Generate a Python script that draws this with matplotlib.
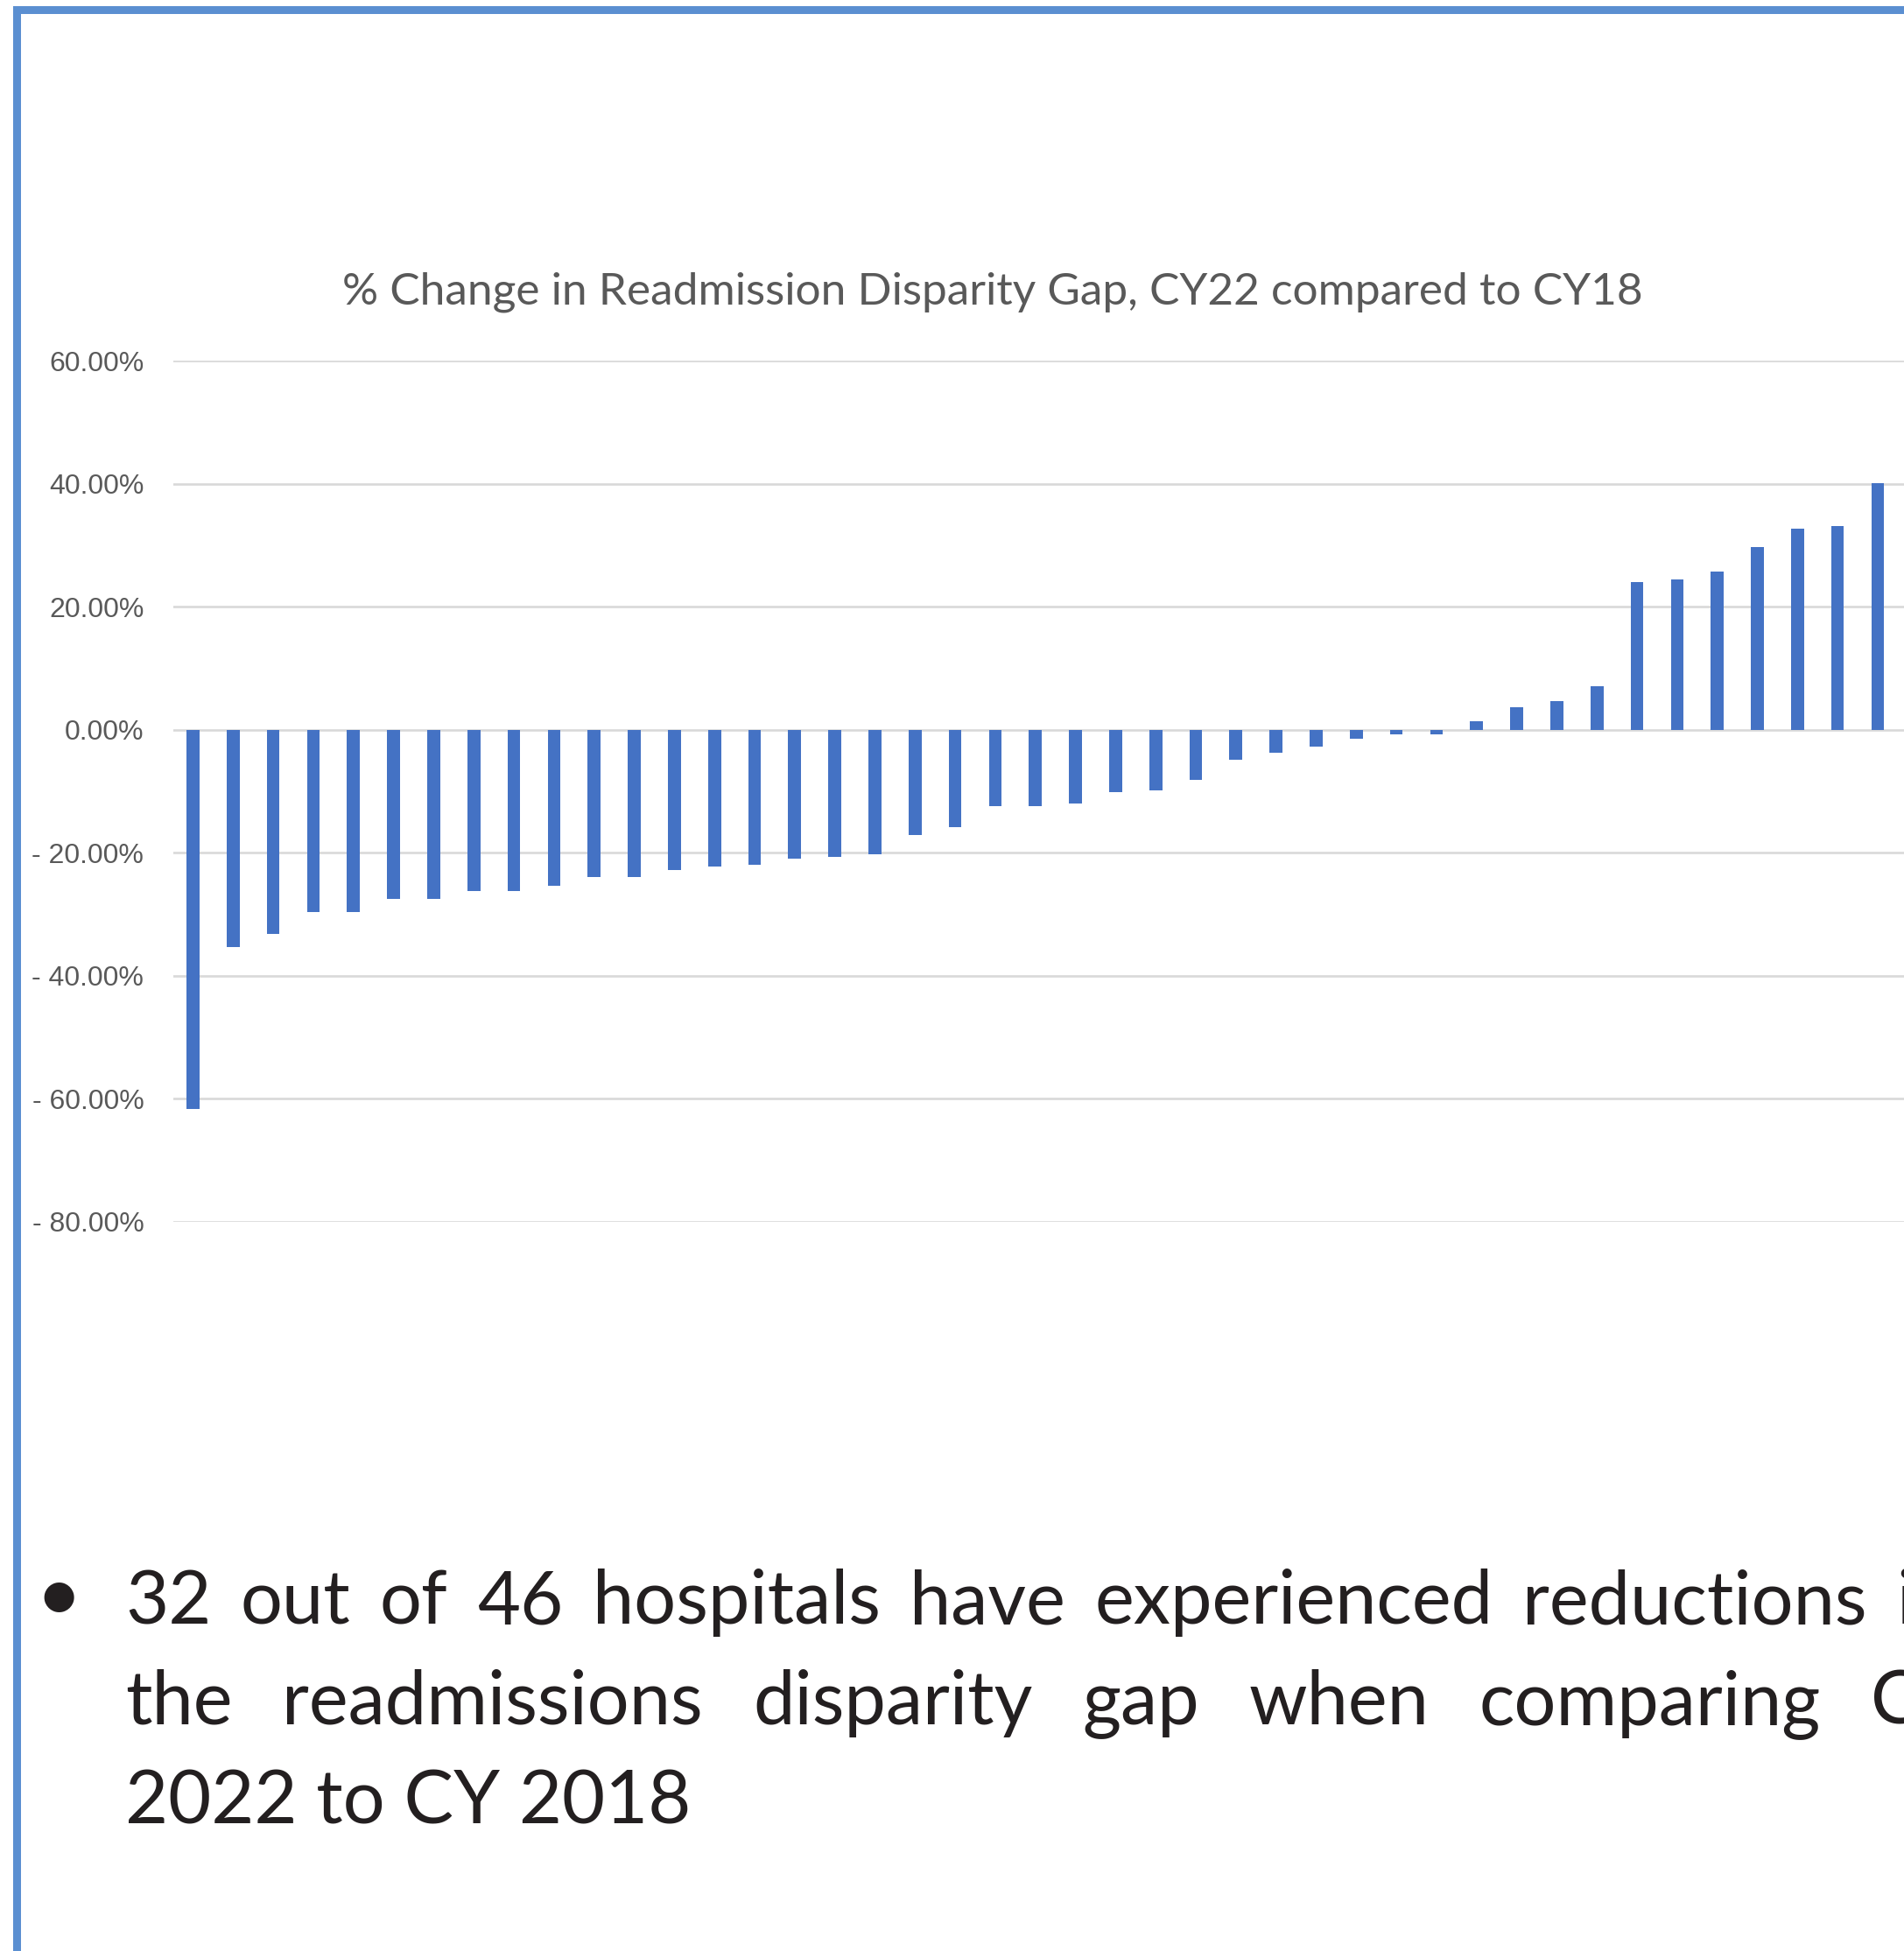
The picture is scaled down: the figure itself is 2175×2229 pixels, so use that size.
import matplotlib
matplotlib.use("Agg")
import matplotlib.pyplot as plt
import numpy as np
from matplotlib.font_manager import FontProperties
from matplotlib.patches import Rectangle
from matplotlib.ticker import FuncFormatter

# % change in readmission disparity gap per hospital, sorted ascending
pct_change = [-61.7, -35.3, -33.2, -29.6, -29.6, -27.5, -27.5, -26.2, -26.2, -25.3,
              -24.0, -24.0, -22.8, -22.3, -21.9, -21.0, -20.6, -20.2, -17.1, -15.8,
              -12.4, -12.4, -12.0, -10.2, -9.8, -8.1, -4.9, -3.7, -2.8, -1.5,
              -0.7, -0.7, 1.4, 3.6, 4.6, 7.1, 24.0, 24.4, 25.7, 29.7,
              32.7, 33.1, 40.1]
n_hospitals = 46
y_ticks = [-80, -60, -40, -20, 0, 20, 40, 60]
title = "% Change in Readmission Disparity Gap, CY22 compared to CY18"
bullet_lines = ["32 out of 46 hospitals have experienced reductions in",
                "the readmissions disparity gap when comparing CY",
                "2022 to CY 2018"]

W, H = 2175, 2229
fig = plt.figure(figsize=(W / 100, H / 100), dpi=100)

# plot area runs past the right edge of the slide crop
ax = fig.add_axes([197.6 / W, 1 - 1396 / H, 46 * 45.82 / W, 984 / H])
x = np.arange(len(pct_change))
ax.bar(x, np.array(pct_change) / 100, width=0.32, color="#4472C4", zorder=3)
ax.set_xlim(-0.5, n_hospitals - 0.5)
ax.set_ylim(-0.8, 0.6)
ax.set_yticks(np.array(y_ticks) / 100)


def excel_pct(v, pos):
    s = f"{abs(v) * 100:.2f}%"
    return "- " + s if v < -1e-9 else s


ax.yaxis.set_major_formatter(FuncFormatter(excel_pct))
ax.tick_params(axis="y", length=0, pad=24, labelsize=23, labelcolor="#595959")
for lbl in ax.get_yticklabels():
    lbl.set_fontfamily("Liberation Sans")
ax.set_xticks([])
ax.grid(axis="y", color="#D9D9D9", linewidth=1.9, zorder=0)
for sp in ax.spines.values():
    sp.set_visible(False)

fig.text(1134 / W, 1 - 347 / H, title, ha="center", va="baseline",
         fontsize=37, color="#595959", family="Lato")

# slide frame (left and top edges)
fig.add_artist(Rectangle((15 / W, 0), 9 / W, 1 - 7 / H, transform=fig.transFigure,
                         color="#5B8FD1", lw=0))
fig.add_artist(Rectangle((15 / W, 1 - 16 / H), 1, 9 / H, transform=fig.transFigure,
                         color="#5B8FD1", lw=0))

# bullet text
fp = FontProperties(family="Lato", size=61)
txt_color = "#231F20"
left = 143
baselines = [1855, 1970, 2083]
fig.text(67 / W, 1 - 1826 / H, "\u2022", ha="center", va="center",
         fontproperties=FontProperties(family="Lato", size=66), color=txt_color)

r = fig.canvas.get_renderer()


def justify(line, y, last_word_x):
    # spread the words so the last one starts at last_word_x
    words = line.split()
    widths = [r.get_text_width_height_descent(w, fp, ismath=False)[0] for w in words]
    gap = (last_word_x - left - sum(widths[:-1])) / (len(words) - 1)
    xpos = left
    for w, wd in zip(words, widths):
        fig.text(xpos / W, 1 - y / H, w, va="baseline", fontproperties=fp, color=txt_color)
        xpos += wd + gap


justify(bullet_lines[0], baselines[0], 2166)
justify(bullet_lines[1], baselines[1], 2137)
fig.text(left / W, 1 - baselines[2] / H, bullet_lines[2], va="baseline",
         fontproperties=fp, color=txt_color)

fig.savefig("out.png", dpi=100, facecolor="white")
